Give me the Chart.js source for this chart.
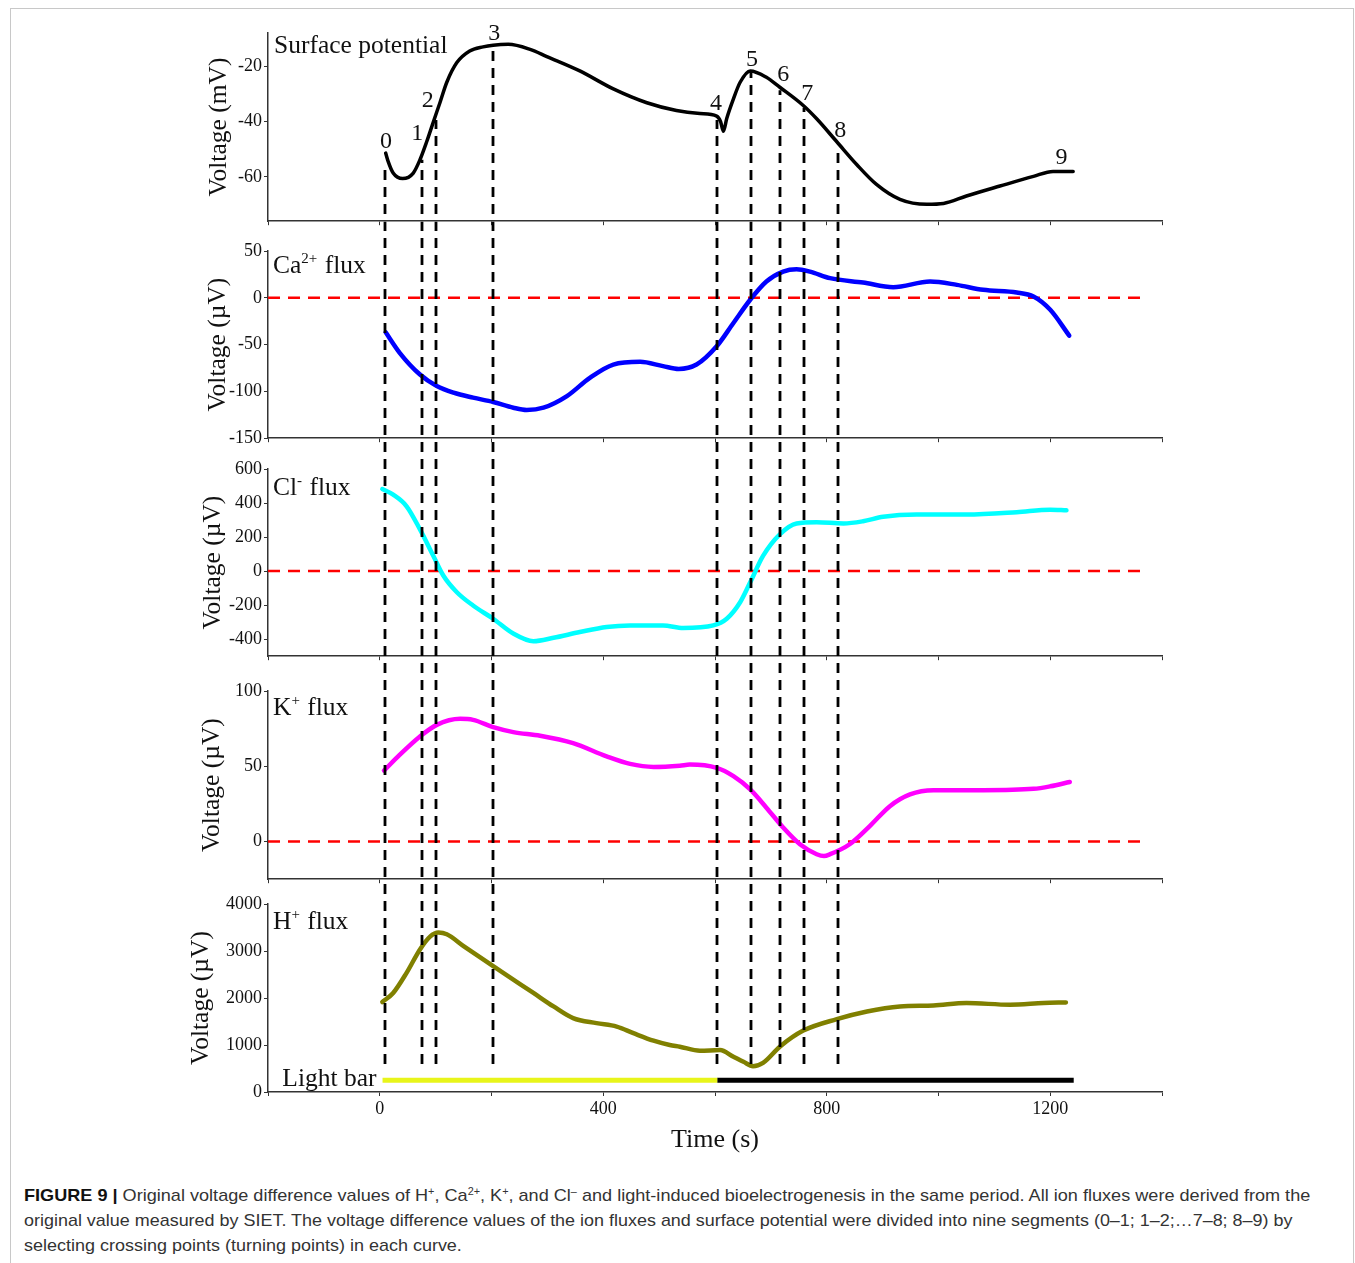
<!DOCTYPE html>
<html>
<head>
<meta charset="utf-8">
<script src="https://cdn.jsdelivr.net/npm/chart.js@4.4.1/dist/chart.umd.min.js"></script>
<style>
  body { margin: 0; background: #fff; }
  #fig { position: relative; width: 1355px; height: 1263px; overflow: hidden; }
  #frame { position: absolute; left: 10px; top: 8px; width: 1342px; height: 1300px; border: 1px solid #c8c8c8; }
  canvas { position: absolute; left: 0; }
  #caption { position: absolute; left: 24px; top: 1183px; font-family: 'Liberation Sans', Arial, sans-serif; font-size: 17px; line-height: 25px; color: #333; }
  .cap-line { white-space: nowrap; height: 25px; }
  .cap-line span { display: inline-block; transform-origin: 0 50%; }
  .cap-line b { color: #111; }
  sup { font-size: 0.6em; line-height: 0; vertical-align: 0.6em; }
</style>
</head>
<body>
<div id="fig">
  <div id="frame"></div>
  <canvas id="surface-chart" width="1355" height="234" style="top:0px"></canvas>
  <canvas id="ca-chart" width="1355" height="229" style="top:222px"></canvas>
  <canvas id="cl-chart" width="1355" height="230" style="top:439px"></canvas>
  <canvas id="k-chart" width="1355" height="235" style="top:657px"></canvas>
  <canvas id="h-chart" width="1355" height="276" style="top:880px"></canvas>
  <div id="caption">
    <div class="cap-line"><span data-w="1286"><b>FIGURE 9 |</b> Original voltage difference values of H<sup>+</sup>, Ca<sup>2+</sup>, K<sup>+</sup>, and Cl<sup>–</sup> and light-induced bioelectrogenesis in the same period. All ion fluxes were derived from the</span></div>
    <div class="cap-line"><span data-w="1268">original value measured by SIET. The voltage difference values of the ion fluxes and surface potential were divided into nine segments (0–1; 1–2;…7–8; 8–9) by</span></div>
    <div class="cap-line"><span data-w="438">selecting crossing points (turning points) in each curve.</span></div>
  </div>
</div>
<script>
// 시간 축 (s)
const xTickLabels = [0, 400, 800, 1200];

// 표면 전위 (mV)
const surfT = [10.6, 15, 24, 41, 60, 72, 84, 96, 108, 120, 138, 161, 185, 203, 230, 269, 299, 358, 418, 478, 531, 573, 603, 610, 615, 621, 633, 645, 663, 692, 716, 758, 782, 818, 854, 889, 931, 979, 1009, 1050, 1110, 1170, 1205, 1241];
const surfV = [-51.4, -54.4, -58.6, -60.6, -58.6, -53.8, -47.3, -40.1, -33.0, -25.8, -18.7, -14.5, -13.0, -12.4, -12.1, -13.9, -16.5, -21.7, -28.2, -33.2, -36.0, -37.1, -38.0, -40.0, -43.5, -38.9, -31.8, -25.8, -21.7, -24.0, -27.6, -34.2, -39.0, -47.3, -55.6, -62.7, -68.1, -69.9, -69.6, -66.9, -63.3, -59.8, -58.0, -58.0];
const surfTicks = [-60, -40, -20];

// Ca2+ (µV)
const caT = [10.6, 36, 72, 102, 132, 167, 203, 239, 263, 293, 335, 376, 418, 466, 507, 535, 567, 603, 633, 663, 692, 722, 746, 770, 806, 865, 919, 985, 1033, 1080, 1140, 1170, 1200, 1234];
const caV = [-36.9, -59, -82, -94.3, -101.4, -106.7, -111.3, -117.4, -119.9, -117.4, -105, -85.5, -71.3, -68.4, -73, -76, -71.3, -51.8, -26.9, -2.1, 17.4, 28, 30.5, 28, 21, 16.3, 11.3, 17.4, 13.8, 8.5, 5.7, 1.4, -12.8, -40.4];
const caTicks = [-150, -100, -50, 0, 50];

// Cl- (µV)
const clT = [4.6, 24, 48, 72, 96, 114, 138, 167, 203, 239, 275, 311, 358, 406, 448, 507, 543, 597, 621, 645, 663, 686, 716, 746, 782, 830, 865, 901, 961, 1050, 1140, 1200, 1229];
const clV = [482, 449, 381, 245, 89, -27, -124, -202, -280, -367, -412, -392, -358, -328, -319, -319, -334, -319, -280, -183, -66, 89, 216, 280, 287, 280, 293, 319, 332, 332, 346, 361, 357];
const clTicks = [-400, -200, 0, 200, 400, 600];

// K+ (µV)
const kT = [7.6, 36, 72, 102, 144, 167, 203, 239, 287, 346, 406, 448, 490, 537, 555, 603, 633, 663, 692, 722, 752, 782, 795, 806, 841, 877, 913, 949, 991, 1080, 1170, 1200, 1235];
const kV = [47.1, 57.7, 69.8, 77.5, 81.5, 80.8, 76, 72.7, 70.3, 65.4, 56.6, 51.6, 49.6, 50.4, 51.1, 48.9, 43.4, 34.6, 22.5, 9.3, -1.8, -8.4, -9.6, -8.4, -1.8, 10.3, 23.5, 31.3, 34.1, 34.1, 35, 36.7, 39.6];
const kTicks = [0, 50, 100];

// H+ (µV)
const hT = [4.6, 24, 48, 72, 90, 105, 120, 150, 203, 239, 275, 311, 346, 388, 424, 454, 490, 519, 537, 573, 609, 633, 651, 668, 686, 716, 758, 818, 872, 931, 991, 1050, 1128, 1188, 1228];
const hV = [1914, 2107, 2535, 3034, 3306, 3392, 3355, 3105, 2677, 2392, 2107, 1820, 1572, 1465, 1392, 1251, 1092, 1000, 964, 878, 893, 750, 642, 550, 621, 964, 1306, 1550, 1713, 1820, 1842, 1893, 1857, 1893, 1906];
const hTicks = [0, 1000, 2000, 3000, 4000];

// 빛 막대 (켜짐 / 꺼짐)
const lightOnT = [5, 604];
const lightOffT = [604, 1242];
const lightBarV = 250;

// 기준선 0
const zeroT = [-200, 1375];

// 전환점 0~8 (점선), 표면 전위 위의 시작 값
const turnT = [10, 75, 101, 203, 604, 665, 717, 759, 820];
const turnV = [-56, -53.8, -39.4, -13.2, -39.4, -22.1, -28.7, -35, -49];
const turnEndV = 450; // H+ 패널에서 점선 끝

// 숫자 라벨 0~9
const numText = ['0', '1', '2', '3', '4', '5', '6', '7', '8', '9'];
const numT = [11, 67, 86, 205, 602, 666, 722, 765, 824, 1220];
const numV = [-49.5, -46.6, -34.8, -10.5, -35.9, -19.8, -25.5, -32.3, -45.5, -55.2];

const serif = "'Liberation Serif', 'Times New Roman', serif";
Chart.defaults.font.family = serif;
Chart.defaults.color = '#111';

function pts(ts, vs) {
  return ts.map((t, i) => ({ x: t, y: vs[i] }));
}

// 패널을 가로지르는 검은 점선
function turnLines(pageTop, fromCurve, toValue) {
  return {
    id: 'turnLines',
    afterDatasetsDraw(chart) {
      const { ctx, chartArea, scales: { x, y } } = chart;
      ctx.save();
      ctx.strokeStyle = '#000';
      ctx.lineWidth = 2.8;
      ctx.setLineDash([10, 7]);
      turnT.forEach((t, i) => {
        const px = Math.round(x.getPixelForValue(t));
        const y0 = fromCurve ? y.getPixelForValue(turnV[i]) : 0;
        const y1 = toValue !== null ? y.getPixelForValue(toValue) : chartArea.bottom;
        ctx.lineDashOffset = (pageTop + y0) % 17;
        ctx.beginPath();
        ctx.moveTo(px, y0);
        ctx.lineTo(px, y1);
        ctx.stroke();
      });
      ctx.restore();
    },
  };
}

// 패널 이름 (윗첨자 포함)
function panelLabel(parts, dx, dy) {
  return {
    id: 'panelLabel',
    afterDraw(chart) {
      const { ctx, chartArea } = chart;
      ctx.save();
      ctx.fillStyle = '#111';
      ctx.textBaseline = 'alphabetic';
      let x = chartArea.left + dx;
      const y = chartArea.top + dy;
      parts.forEach((p) => {
        ctx.font = (p[1] ? 15 : 25.5) + 'px ' + serif;
        ctx.fillText(p[0], x, p[1] ? y - 10 : y);
        x += ctx.measureText(p[0]).width + (p[1] ? 1 : 0);
      });
      ctx.restore();
    },
  };
}

const turnNumbers = {
  id: 'turnNumbers',
  afterDraw(chart) {
    const { ctx, scales: { x, y } } = chart;
    ctx.save();
    ctx.font = '24px ' + serif;
    ctx.fillStyle = '#111';
    ctx.textAlign = 'center';
    ctx.textBaseline = 'alphabetic';
    numText.forEach((s, i) => {
      ctx.fillText(s, x.getPixelForValue(numT[i]), y.getPixelForValue(numV[i]));
    });
    ctx.restore();
  },
};

const lightBarText = {
  id: 'lightBarText',
  afterDraw(chart) {
    const { ctx, scales: { x, y } } = chart;
    ctx.save();
    ctx.font = '25.5px ' + serif;
    ctx.fillStyle = '#111';
    ctx.textAlign = 'right';
    ctx.textBaseline = 'alphabetic';
    ctx.fillText('Light bar', x.getPixelForValue(lightOnT[0]) - 6, y.getPixelForValue(lightBarV) + 6);
    ctx.restore();
  },
};

function curve(ts, vs, color, width) {
  return {
    data: pts(ts, vs),
    borderColor: color,
    borderWidth: width,
    cubicInterpolationMode: 'monotone',
    borderCapStyle: 'round',
    borderJoinStyle: 'round',
    pointRadius: 0,
  };
}

function zeroLine() {
  return {
    data: pts(zeroT, [0, 0]),
    borderColor: '#ff0000',
    borderWidth: 2.5,
    borderDash: [12, 8],
    pointRadius: 0,
  };
}

function panel(id, cfg) {
  return new Chart(document.getElementById(id), {
    type: 'line',
    data: { datasets: cfg.datasets },
    options: {
      responsive: false,
      animation: false,
      layout: { padding: { left: cfg.padLeft, top: cfg.padTop, right: 193, bottom: 0 } },
      plugins: { legend: { display: false }, tooltip: { enabled: false } },
      scales: {
        x: {
          type: 'linear',
          min: -200,
          max: 1400,
          border: { display: true, color: '#333', width: 1.5 },
          grid: { drawOnChartArea: false, drawTicks: true, tickLength: 4, color: '#333' },
          ticks: {
            display: cfg.bottom,
            stepSize: 200,
            autoSkip: false,
            maxRotation: 0,
            padding: 2,
            font: { size: 18 },
            color: '#111',
            callback: (v) => (xTickLabels.includes(v) ? String(v) : ''),
          },
          title: { display: cfg.bottom, text: 'Time (s)', font: { size: 26 }, color: '#111', padding: 0 },
          afterFit: (s) => { s.height = cfg.xHeight; },
        },
        y: {
          type: 'linear',
          min: cfg.min,
          max: cfg.max,
          border: { display: true, color: '#333', width: 1.5 },
          grid: { drawOnChartArea: false, drawTicks: true, tickLength: 4, color: '#333' },
          ticks: { padding: 2, font: { size: 18 }, color: '#111', callback: (v) => String(v) },
          afterBuildTicks: (s) => { s.ticks = cfg.ticks.map((v) => ({ value: v })); },
          title: { display: true, text: cfg.yTitle, font: { size: 25.5 }, color: '#111', padding: 0 },
          afterFit: (s) => { s.width = 268 - cfg.padLeft; },
        },
      },
    },
    plugins: cfg.plugins,
  });
}

const charts = [];

charts.push(panel('surface-chart', {
  datasets: [curve(surfT, surfV, '#000000', 3.5)],
  min: -76, max: -8, ticks: surfTicks,
  padLeft: 204, padTop: 33, xHeight: 12, bottom: false,
  yTitle: 'Voltage (mV)',
  plugins: [turnLines(0, true, null), panelLabel([['Surface potential', false]], 6, 19.5), turnNumbers],
}));

charts.push(panel('ca-chart', {
  datasets: [curve(caT, caV, '#0000ff', 4.5), zeroLine()],
  min: -150, max: 50, ticks: caTicks,
  padLeft: 203, padTop: 29, xHeight: 12, bottom: false,
  yTitle: 'Voltage (µV)',
  plugins: [turnLines(222, false, null), panelLabel([['Ca', false], ['2+', true], [' flux', false]], 5, 22)],
}));

charts.push(panel('cl-chart', {
  datasets: [curve(clT, clV, '#00ffff', 4.5), zeroLine()],
  min: -500, max: 600, ticks: clTicks,
  padLeft: 198, padTop: 30, xHeight: 12, bottom: false,
  yTitle: 'Voltage (µV)',
  plugins: [turnLines(439, false, null), panelLabel([['Cl', false], ['-', true], [' flux', false]], 5, 26)],
}));

charts.push(panel('k-chart', {
  datasets: [curve(kT, kV, '#ff00ff', 4.5), zeroLine()],
  min: -25, max: 100, ticks: kTicks,
  padLeft: 197, padTop: 34, xHeight: 12, bottom: false,
  yTitle: 'Voltage (µV)',
  plugins: [turnLines(657, false, null), panelLabel([['K', false], ['+', true], [' flux', false]], 5, 24)],
}));

charts.push(panel('h-chart', {
  datasets: [
    curve(hT, hV, '#808000', 4.5),
    { data: pts(lightOnT, [lightBarV, lightBarV]), borderColor: '#e8f51a', borderWidth: 5, pointRadius: 0 },
    { data: pts(lightOffT, [lightBarV, lightBarV]), borderColor: '#000000', borderWidth: 5, pointRadius: 0 },
  ],
  min: 0, max: 4000, ticks: hTicks,
  padLeft: 186, padTop: 24, xHeight: 64, bottom: true,
  yTitle: 'Voltage (µV)',
  plugins: [turnLines(880, false, turnEndV), panelLabel([['H', false], ['+', true], [' flux', false]], 5, 24.5), lightBarText],
}));

// 캡션 줄 너비 맞추기
document.querySelectorAll('.cap-line span').forEach((el) => {
  const w = Number(el.dataset.w);
  el.style.transform = 'scaleX(' + (w / el.offsetWidth) + ')';
});
</script>
</body>
</html>
